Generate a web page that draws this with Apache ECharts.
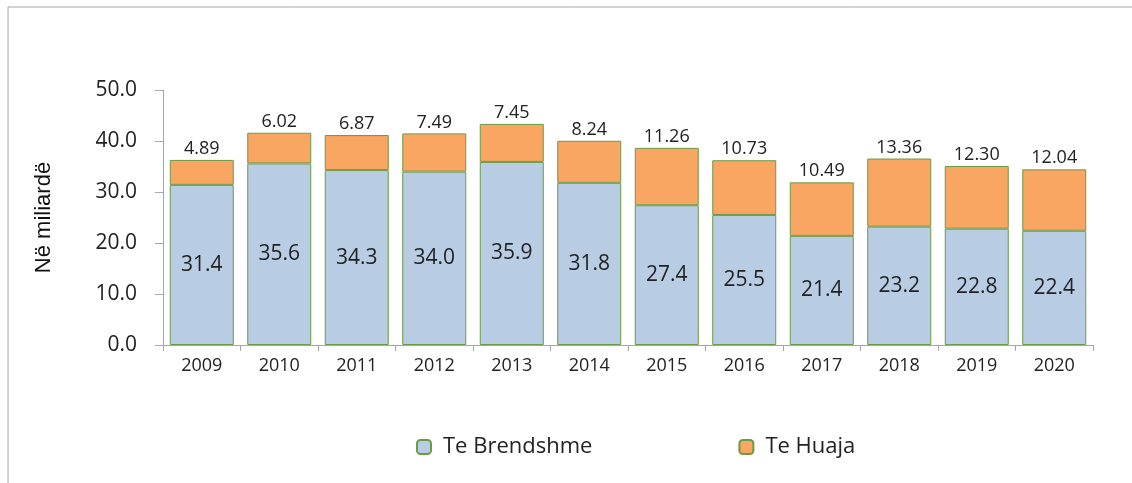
<!DOCTYPE html>
<html>
<head>
<meta charset="utf-8">
<script src="https://cdn.jsdelivr.net/npm/echarts@6/dist/echarts.min.js"></script>
<style>
  html, body { margin: 0; padding: 0; background: #fff; }
  #chart { width: 1132px; height: 483px; }
</style>
</head>
<body>
<div id="chart"></div>
<script>
// vitet
const years = ['2009', '2010', '2011', '2012', '2013', '2014', '2015', '2016', '2017', '2018', '2019', '2020']
// borxhi i brendshem / i huaj (ne miliarde)
const brendshme = [31.4, 35.6, 34.3, 34.0, 35.9, 31.8, 27.4, 25.5, 21.4, 23.2, 22.8, 22.4]
const huaja = [4.89, 6.02, 6.87, 7.49, 7.45, 8.24, 11.26, 10.73, 10.49, 13.36, 12.30, 12.04]
const yTicks = [0, 10, 20, 30, 40, 50]

const font = "'Open Sans', 'Noto Sans', sans-serif"
const border = '#6a9b45'

const chart = echarts.init(document.getElementById('chart'))
chart.setOption({
  animation: false,
  textStyle: { fontFamily: font },
  graphic: [{
    type: 'rect',
    shape: { x: 8, y: 7, width: 1200, height: 600 },
    style: { fill: 'none', stroke: '#a6a6a6', lineWidth: 1 },
    silent: true
  }],
  grid: { left: 163, right: 39, top: 90, bottom: 138 },
  legend: {
    bottom: 20,
    left: 411,
    itemWidth: 14,
    itemHeight: 14,
    itemGap: 146,
    textStyle: { fontSize: 22, color: '#222', fontFamily: font, padding: [0, 0, 0, 7] },
    data: ['Te Brendshme', 'Te Huaja']
  },
  xAxis: {
    type: 'category',
    data: years,
    axisLine: { lineStyle: { color: '#a6a6a6' } },
    axisTick: { show: true, length: 6, lineStyle: { color: '#a6a6a6' } },
    axisLabel: { fontSize: 18, color: '#222', margin: 12 }
  },
  yAxis: {
    type: 'value',
    min: yTicks[0],
    max: yTicks[yTicks.length - 1],
    interval: 10,
    name: 'Në miliardë',
    nameLocation: 'middle',
    nameGap: 108,
    nameRotate: 90,
    nameTextStyle: { fontSize: 22, color: '#111', fontFamily: "'Liberation Sans', Arial, sans-serif" },
    axisLine: { show: true, lineStyle: { color: '#a6a6a6' } },
    axisTick: { show: true, length: 8, lineStyle: { color: '#a6a6a6' } },
    splitLine: { show: false },
    axisLabel: { fontSize: 21, color: '#222', margin: 26, formatter: v => v.toFixed(1) }
  },
  series: [
    {
      name: 'Te Brendshme',
      type: 'bar',
      stack: 'total',
      barWidth: 64,
      data: brendshme,
      itemStyle: { color: '#b8cce4', borderColor: border, borderWidth: 1 },
      label: {
        show: true,
        position: 'inside',
        fontSize: 21,
        color: '#222',
        formatter: p => p.value.toFixed(1)
      }
    },
    {
      name: 'Te Huaja',
      type: 'bar',
      stack: 'total',
      barWidth: 64,
      data: huaja,
      itemStyle: { color: '#f8a662', borderColor: border, borderWidth: 1 },
      label: {
        show: true,
        position: 'top',
        distance: 2,
        fontSize: 18,
        color: '#222',
        formatter: p => p.value.toFixed(2)
      }
    }
  ]
})
</script>
</body>
</html>
